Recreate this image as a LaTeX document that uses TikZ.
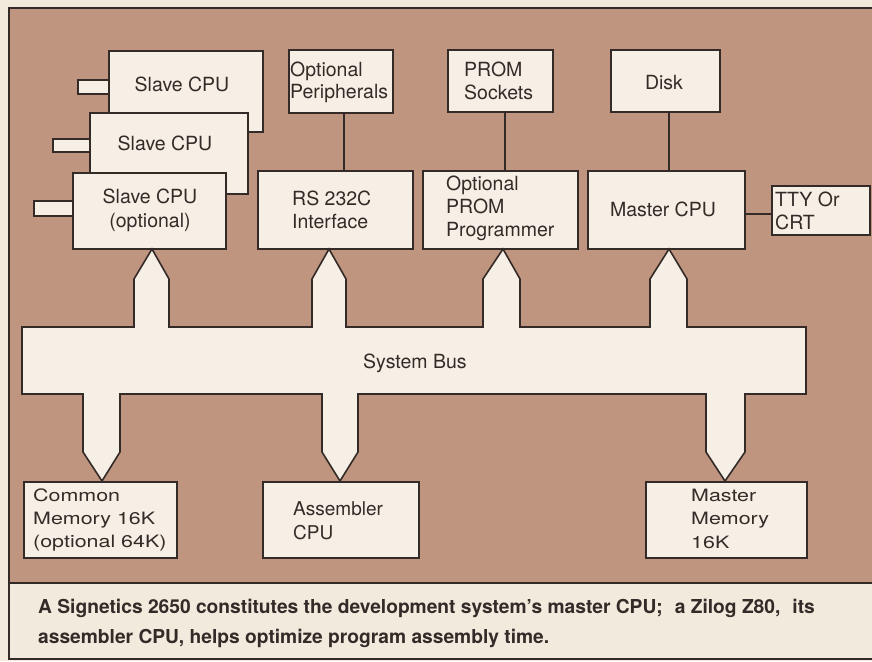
\documentclass[tikz,border=0pt]{standalone}
\usepackage{fontspec}
\setmainfont{TeX Gyre Heros}
\newfontfamily\widefont[FakeStretch=1.26]{TeX Gyre Heros}
\usetikzlibrary{calc}
\definecolor{brownbg}{RGB}{191,149,127}
\definecolor{boxfill}{RGB}{245,239,229}
\definecolor{paper}{RGB}{241,234,221}
\definecolor{ink}{RGB}{52,42,40}
\begin{document}
\begin{tikzpicture}[x=1pt,y=-1pt,line join=miter,
  box/.style={draw=ink,fill=boxfill,line width=1.6pt,inner sep=0pt,anchor=north west},
  conn/.style={draw=ink,line width=1.8pt},
  lbl/.style={inner sep=0pt,text=ink,font=\fontsize{19.5}{23}\selectfont,align=left},
  wlbl/.style={lbl,font=\widefont\fontsize{17}{23.5}\selectfont},
  captext/.style={inner sep=0pt,text=ink,align=left,font=\bfseries\fontsize{19.2}{30}\selectfont}]
\useasboundingbox (0,0) rectangle (872,661);
% page and frame
\fill[paper] (0,0) rectangle (872,661);
\fill[brownbg] (9,8) rectangle (872,583);
\fill[paper] (9,583) rectangle (872,659);
\draw[ink,line width=1.6pt] (872,8) -- (9,8) -- (9,659) -- (872,659);
\draw[ink,line width=1.6pt] (9,583) -- (872,583);
% slave CPUs with stubs
\node[box,minimum width=31pt,minimum height=14pt] (st1) at (77,79) {};
\node[box,minimum width=154pt,minimum height=81pt] (s1) at (108,50) {};
\node[box,minimum width=37pt,minimum height=13pt] (st2) at (52,138) {};
\node[box,minimum width=158pt,minimum height=81pt] (s2) at (89,112) {};
\node[box,minimum width=39pt,minimum height=15pt] (st3) at (33,200) {};
\node[box,minimum width=153pt,minimum height=76pt] (s3) at (72,172) {};
% other boxes
\node[box,minimum width=104pt,minimum height=63pt] (per) at (288,49) {};
\node[box,minimum width=155pt,minimum height=78pt] (rs) at (257,170) {};
\node[box,minimum width=105pt,minimum height=62pt] (ps) at (447,49) {};
\node[box,minimum width=155pt,minimum height=78pt] (pp) at (422,170) {};
\node[box,minimum width=109pt,minimum height=62pt] (disk) at (610,49) {};
\node[box,minimum width=157pt,minimum height=78pt] (mc) at (587,170) {};
\node[box,minimum width=98pt,minimum height=49pt] (tty) at (771,185) {};
\node[box,minimum width=153pt,minimum height=76pt] (cm) at (23,481) {};
\node[box,minimum width=156pt,minimum height=76pt] (asm) at (262,481) {};
\node[box,minimum width=161pt,minimum height=76pt] (mm) at (645,481) {};
% connectors
\draw[conn] ([xshift=3pt]per.south) -- ([xshift=3pt]per.south |- rs.north);
\draw[conn] ([xshift=4.5pt]ps.south) -- ([xshift=4.5pt]ps.south |- pp.north);
\draw[conn] ([xshift=3.5pt]disk.south) -- ([xshift=3.5pt]disk.south |- mc.north);
\draw[conn] ([yshift=-4pt]mc.east) -- ([yshift=-4pt]mc.east -| tty.west);
% system bus
\draw[ink,fill=boxfill,line width=1.6pt]
  (22,327) -- (134,327) -- (134,279) -- (152,249) -- (169,279) -- (169,327)
  -- (312,327) -- (312,279) -- (329,249) -- (346,279) -- (346,327)
  -- (483,327) -- (483,279) -- (503,249) -- (520,279) -- (520,327)
  -- (650,327) -- (650,279) -- (669,249) -- (687,279) -- (687,327)
  -- (806,327) -- (806,394)
  -- (745,394) -- (745,452) -- (725,481) -- (706,452) -- (706,394)
  -- (358,394) -- (358,452) -- (340,481) -- (322,452) -- (322,394)
  -- (120,394) -- (120,452) -- (102,481) -- (83,452) -- (83,394)
  -- (22,394) -- cycle;
% labels (multi-line nodes: base = baseline of the last line)
\node[lbl,anchor=base] (s1t) at (182,91) {Slave CPU};
\node[lbl,anchor=base] (s2t) at (165,150) {Slave CPU};
\node[lbl,anchor=base,align=center,font=\fontsize{19.5}{24}\selectfont] (s3t) at (150,227) {Slave CPU\\(optional)};
\node[lbl,anchor=base west,font=\fontsize{19.5}{21}\selectfont] (pert) at (290,98) {Optional\\Peripherals};
\node[lbl,anchor=base west] (rst) at (292,228) {RS 232C\\Interface};
\node[lbl,anchor=base west,font=\fontsize{19.5}{22}\selectfont] (pst) at (464,99) {PROM\\Sockets};
\node[lbl,anchor=base west,font=\fontsize{19.5}{23}\selectfont] (ppt) at (446,236) {Optional\\PROM\\Programmer};
\node[lbl,anchor=base] (diskt) at (664,89) {Disk};
\node[lbl,anchor=base] (mct) at (663,216) {Master CPU};
\node[lbl,anchor=base west] (ttyt) at (775,229) {TTY Or\\CRT};
\node[lbl,anchor=base west] (bust) at (363,368) {System Bus};
\node[wlbl,anchor=base west,font=\widefont\fontsize{17}{23}\selectfont] (cmt) at (33,547) {Common\\Memory 16K\\(optional 64K)};
\node[lbl,anchor=base west,font=\fontsize{19}{24}\selectfont] (asmt) at (293,539) {Assembler\\CPU};
\node[wlbl,anchor=base west] (mmt) at (691,548) {Master\\Memory\\16K};
\node[captext,anchor=base west] (capt) at (38,643) {A Signetics 2650 constitutes the development system’s master CPU;\hspace{12pt}a Zilog Z80,\hspace{12pt}its\\assembler CPU, helps optimize program assembly time.};
\end{tikzpicture}
\end{document}
